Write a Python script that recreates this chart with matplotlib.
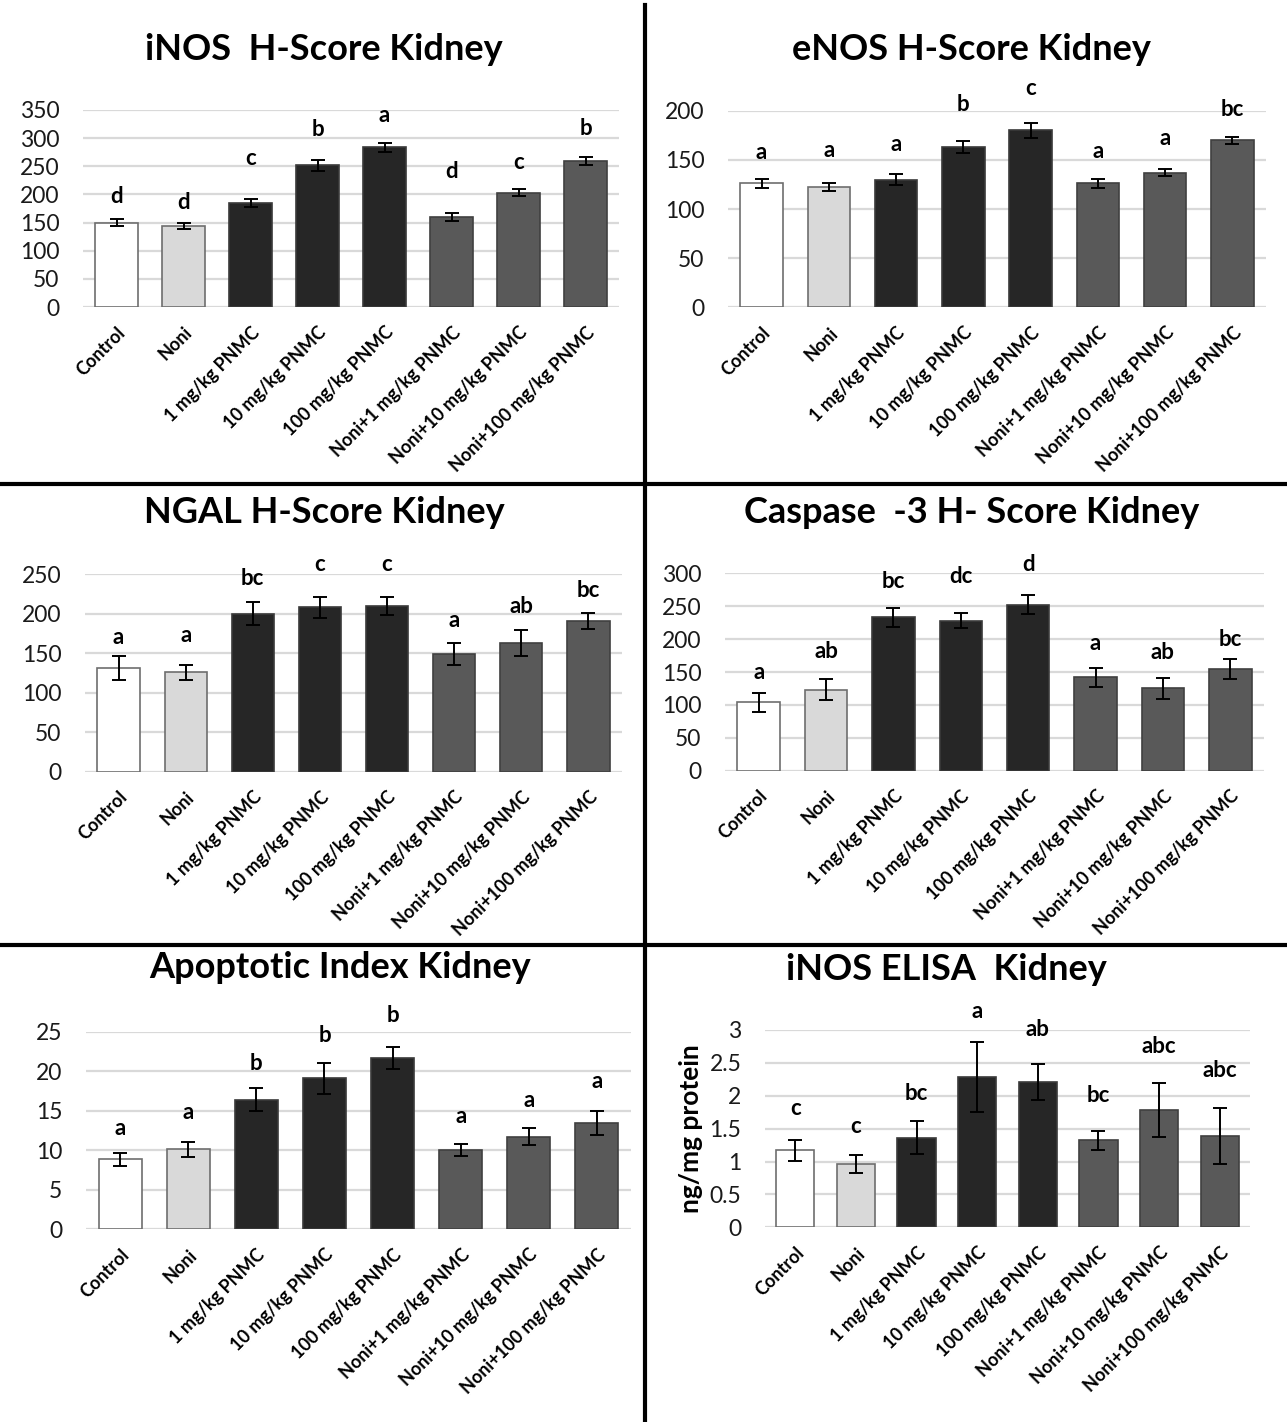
import numpy as np
import matplotlib.pyplot as plt
from matplotlib.lines import Line2D
import matplotlib
matplotlib.rcParams['font.family'] = ['Lato', 'DejaVu Sans']

W, H = 1287, 1422

groups = ['Control', 'Noni', '1 mg/kg PNMC', '10 mg/kg PNMC', '100 mg/kg PNMC',
          'Noni+1 mg/kg PNMC', 'Noni+10 mg/kg PNMC', 'Noni+100 mg/kg PNMC']

inos_mean = [150, 144, 184, 252, 284, 160, 203, 259]
inos_err = [6, 5, 7, 10, 8, 7, 6, 7]
inos_letters = ['d', 'd', 'c', 'b', 'a', 'd', 'c', 'b']

enos_mean = [126, 122, 130, 163, 180, 126, 137, 170]
enos_err = [4.6, 4, 5.4, 5.8, 7.3, 5, 3.4, 3.7]
enos_letters = ['a', 'a', 'a', 'b', 'c', 'a', 'a', 'bc']

ngal_mean = [131, 126, 200, 208, 210, 149, 163, 191]
ngal_err = [15.4, 9.3, 14.6, 13, 11.4, 14, 16.3, 10.6]
ngal_letters = ['a', 'a', 'bc', 'c', 'c', 'a', 'ab', 'bc']

casp_mean = [104, 123, 233, 228, 252, 142, 125, 154]
casp_err = [14.4, 15.7, 14.4, 11.4, 14.4, 14.2, 15.5, 15]
casp_letters = ['a', 'ab', 'bc', 'dc', 'd', 'a', 'ab', 'bc']

apo_mean = [8.85, 10.1, 16.4, 19.1, 21.7, 10.0, 11.7, 13.5]
apo_err = [0.84, 0.93, 1.45, 1.92, 1.39, 0.76, 1.07, 1.52]
apo_letters = ['a', 'a', 'b', 'b', 'b', 'a', 'a', 'a']

elisa_mean = [1.17, 0.96, 1.36, 2.29, 2.21, 1.32, 1.78, 1.39]
elisa_err = [0.165, 0.14, 0.25, 0.53, 0.27, 0.15, 0.41, 0.43]
elisa_letters = ['c', 'c', 'bc', 'a', 'ab', 'bc', 'abc', 'abc']

# heights of the significance letters (data units)
inos_ly = [196, 185, 264, 316, 341, 240, 256, 317]
enos_ly = [157, 160, 166, 206, 223, 159, 172, 201]
ngal_ly = [170, 173, 245, 262, 263, 191, 209, 230]
casp_ly = [150, 181, 287, 295, 314, 194, 180, 200]
apo_ly = [12.8, 14.8, 21.0, 24.5, 27.1, 14.3, 16.3, 18.7]
elisa_ly = [1.81, 1.53, 2.04, 3.28, 3.01, 2.01, 2.75, 2.38]

fills = ['white', '#d9d9d9', '#262626', '#262626', '#262626', '#595959', '#595959', '#595959']
edges = ['#6e6e6e', '#6e6e6e', '#3a3a3a', '#3a3a3a', '#3a3a3a', '#404040', '#404040', '#404040']

fig = plt.figure(figsize=(W / 100, H / 100), dpi=100)


def px_rect(x0, x1, ytop, ybot):
    return [x0 / W, 1 - ybot / H, (x1 - x0) / W, (ybot - ytop) / H]


def panel(rect, mean, err, letters, ly, ymax, step, title, tx, ty, ticklabels=None):
    ax = fig.add_axes(px_rect(*rect))
    x = np.arange(len(groups))
    ax.bar(x, mean, width=0.63, color=fills, edgecolor=edges, linewidth=1.2, zorder=3)
    ax.errorbar(x, mean, yerr=err, fmt='none', ecolor='black', elinewidth=1.4,
                capsize=5, capthick=1.4, zorder=4)
    for xi, t, yv in zip(x, letters, ly):
        ax.text(xi, yv, t, ha='center', va='center', fontsize=16, fontweight='bold',
                clip_on=False)
    ax.set_xlim(-0.5, len(groups) - 0.5)
    ax.set_ylim(0, ymax)
    ticks = np.arange(0, ymax + step / 2, step)
    ax.set_yticks(ticks)
    if ticklabels is not None:
        ax.set_yticklabels(ticklabels)
    ax.yaxis.grid(True, color='#d9d9d9', linewidth=1.6, zorder=0)
    ax.set_axisbelow(True)
    for s in ax.spines.values():
        s.set_visible(False)
    ax.tick_params(axis='both', length=0)
    ax.tick_params(axis='y', labelsize=16.5, pad=17, labelcolor='#1a1a1a')
    ax.set_xticks(x)
    ax.set_xticklabels(groups, rotation=45, ha='right', va='top', rotation_mode='anchor',
                       fontsize=13, fontweight='bold')
    ax.tick_params(axis='x', pad=12)
    fig.text(tx / W, 1 - ty / H, title, ha='center', va='center', fontsize=26,
             fontweight='bold')
    return ax


panel((83, 619, 110, 307), inos_mean, inos_err, inos_letters, inos_ly, 350, 50,
      'iNOS  H-Score Kidney', 324, 50)
panel((728, 1266, 110.7, 307.3), enos_mean, enos_err, enos_letters, enos_ly, 200, 50,
      'eNOS H-Score Kidney', 971, 50)
panel((85, 622, 574.3, 771.7), ngal_mean, ngal_err, ngal_letters, ngal_ly, 250, 50,
      'NGAL H-Score Kidney', 324, 513)
panel((725, 1264, 573.3, 770.7), casp_mean, casp_err, casp_letters, casp_ly, 300, 50,
      'Caspase  -3 H- Score Kidney', 972, 513)
panel((86, 631, 1031.7, 1229.3), apo_mean, apo_err, apo_letters, apo_ly, 25, 5,
      'Apoptotic Index Kidney', 340, 967)
ax6 = panel((765, 1250, 1030, 1227.3), elisa_mean, elisa_err, elisa_letters, elisa_ly, 3, 0.5,
            'iNOS ELISA  Kidney', 946, 970,
            ticklabels=['0', '0.5', '1', '1.5', '2', '2.5', '3'])
ax6.set_ylabel('ng/mg protein', fontsize=19, fontweight='bold', labelpad=5)

# black frame lines between the panels
lw = 3
fig.add_artist(Line2D([645 / W, 645 / W], [0, 1 - 5 / H], color='black', lw=lw))
fig.add_artist(Line2D([0, 1], [1 - 484 / H, 1 - 484 / H], color='black', lw=lw))
fig.add_artist(Line2D([0, 1], [1 - 945 / H, 1 - 945 / H], color='black', lw=lw))

fig.savefig('out.png', dpi=100)
